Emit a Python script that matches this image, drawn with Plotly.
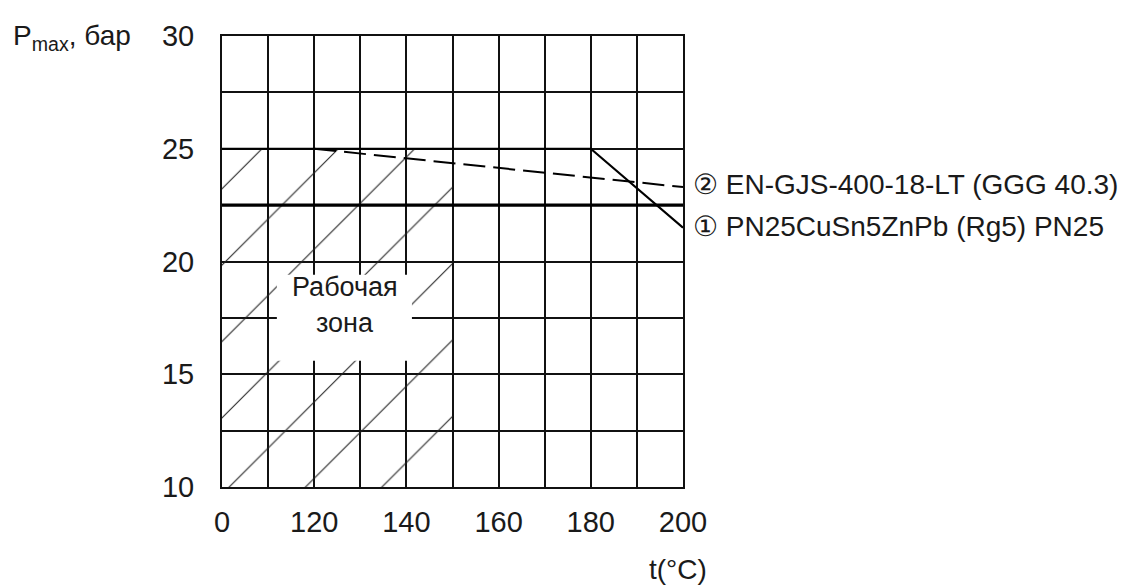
import plotly.graph_objects as go

# ---- data ----
# x positions are in chart units: the first two grid columns span 0..120 °C (broken axis)
x_tick_vals = [100, 120, 140, 160, 180, 200]
x_tick_text = ["0", "120", "140", "160", "180", "200"]
x_minor_vals = [110, 130, 150, 170, 190]
y_tick_vals = [10, 15, 20, 25, 30]
y_tick_text = ["10", "15", "20", "25", "30"]
y_minor_vals = [12.5, 17.5, 22.5, 27.5]

zone_t = [100, 150, 150, 100, 100]
zone_p = [10, 10, 25, 25, 10]

pn25_t = [100, 200]
pn25_p = [22.5, 22.5]

s1_t = [100, 180, 200]          # ① PN25CuSn5ZnPb (Rg5) PN25
s1_p = [25, 25, 21.5]
s2_t = [120, 200]               # ② EN-GJS-400-18-LT (GGG 40.3)
s2_p = [25, 23.3]

s1_label = "① PN25CuSn5ZnPb (Rg5) PN25"
s2_label = "② EN-GJS-400-18-LT (GGG 40.3)"
zone_label = ["Рабочая", "зона"]

FONT = "Liberation Sans, Arial, sans-serif"
INK = "#1a1a1a"
GRID = "#111111"

fig = go.Figure()

# hatched working zone
fig.add_trace(go.Scatter(
    x=zone_t, y=zone_p, mode="lines", fill="toself",
    line=dict(width=0, color="rgba(0,0,0,0)"),
    fillcolor="rgba(255,255,255,0)",
    fillpattern=dict(shape="/", size=54, solidity=0.02, fgcolor="#222222", fgopacity=1,
                     bgcolor="rgba(255,255,255,0)", fillmode="overlay"),
    hoverinfo="skip", showlegend=False,
))

# thick PN25 line
fig.add_trace(go.Scatter(x=pn25_t, y=pn25_p, mode="lines",
                         line=dict(color="#000000", width=3.2), showlegend=False))
# series 1 solid
fig.add_trace(go.Scatter(x=s1_t, y=s1_p, mode="lines",
                         line=dict(color="#000000", width=2.2), showlegend=False))
# series 2 dashed
fig.add_trace(go.Scatter(x=s2_t, y=s2_p, mode="lines",
                         line=dict(color="#000000", width=2.0, dash="22px,8px"),
                         showlegend=False))

# white box behind the working-zone caption
fig.add_shape(type="rect", xref="x", yref="y", x0=111.9, x1=141.2, y0=15.6, y1=19.41,
              fillcolor="white", line=dict(width=0), layer="above")
fig.add_annotation(x=126.6, y=18.88, text=zone_label[0], showarrow=False,
                   font=dict(family=FONT, size=27, color=INK), xanchor="center", yanchor="middle")
fig.add_annotation(x=126.6, y=17.28, text=zone_label[1], showarrow=False,
                   font=dict(family=FONT, size=27, color=INK), xanchor="center", yanchor="middle")

# series labels
fig.add_annotation(x=s2_t[-1], y=s2_p[-1], text=s2_label, showarrow=False, xanchor="left",
                   yanchor="middle", xshift=8, yshift=3,
                   font=dict(family=FONT, size=28, color=INK))
fig.add_annotation(x=s1_t[-1], y=s1_p[-1], text=s1_label, showarrow=False, xanchor="left",
                   yanchor="middle", xshift=8, yshift=1,
                   font=dict(family=FONT, size=28, color=INK))

# axis titles
fig.add_annotation(xref="paper", yref="paper", x=-0.458, y=0.996, xanchor="left", yanchor="middle",
                   text="P<sub>max</sub>, бар", showarrow=False,
                   font=dict(family=FONT, size=28, color=INK))
fig.add_annotation(xref="paper", yref="paper", x=0.989, y=-0.184, xanchor="center", yanchor="middle",
                   text="t(°C)", showarrow=False,
                   font=dict(family=FONT, size=28, color=INK))

fig.update_layout(
    width=1127, height=579, autosize=False,
    margin=dict(l=214, r=452, t=18, b=100),
    paper_bgcolor="white", plot_bgcolor="white",
    showlegend=False,
    font=dict(family=FONT, color=INK),
)
fig.update_xaxes(range=[100, 200], tickmode="array", tickvals=x_tick_vals, ticktext=x_tick_text,
                 showgrid=True, gridcolor=GRID, gridwidth=1.5,
                 minor=dict(tickvals=x_minor_vals, showgrid=True, gridcolor=GRID, gridwidth=1.5, ticks=""),
                 showline=True, linecolor=GRID, linewidth=2, mirror=True,
                 zeroline=False, ticks="", ticklabelstandoff=8,
                 tickfont=dict(family=FONT, size=29, color=INK))
fig.update_yaxes(range=[10, 30], tickmode="array", tickvals=y_tick_vals, ticktext=y_tick_text,
                 showgrid=True, gridcolor=GRID, gridwidth=1.5,
                 minor=dict(tickvals=y_minor_vals, showgrid=True, gridcolor=GRID, gridwidth=1.5, ticks=""),
                 showline=True, linecolor=GRID, linewidth=2, mirror=True,
                 zeroline=False, ticks="", ticklabelstandoff=20,
                 tickfont=dict(family=FONT, size=29, color=INK))

fig.write_html("out.html")
